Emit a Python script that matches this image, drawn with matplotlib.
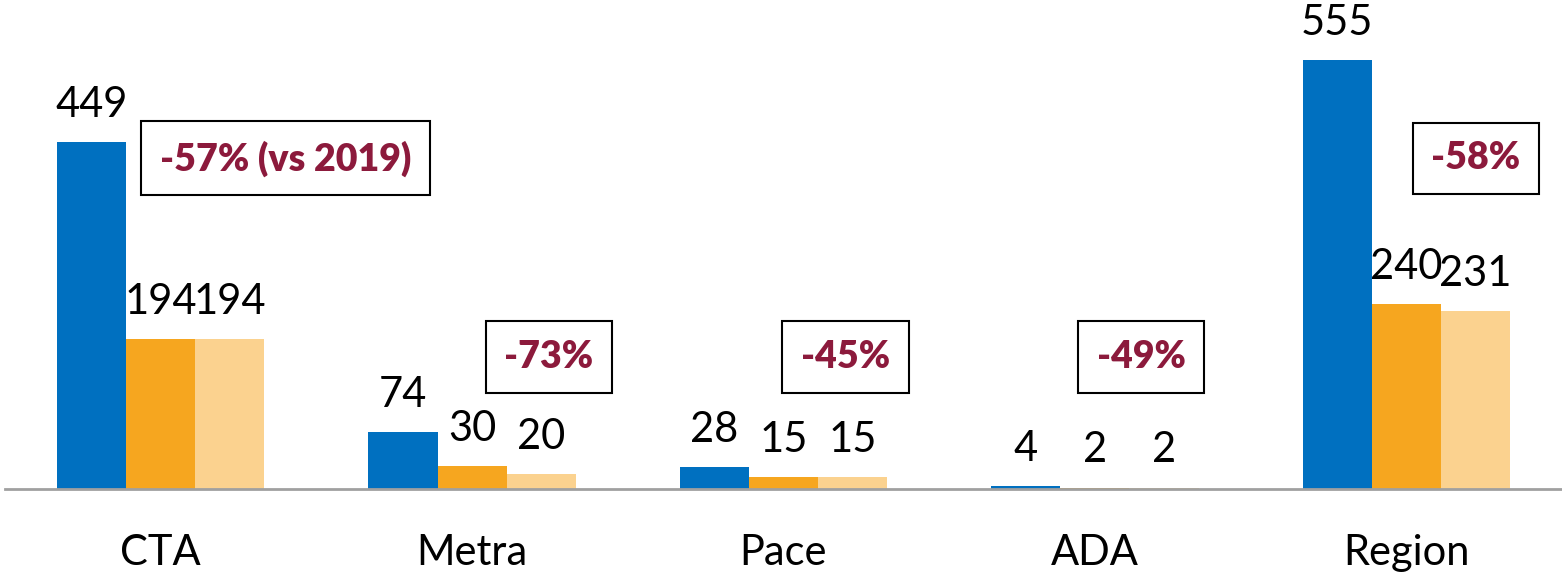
import matplotlib.pyplot as plt
import numpy as np

plt.rcParams['font.family'] = ['Lato', 'DejaVu Sans']

categories = ['CTA', 'Metra', 'Pace', 'ADA', 'Region']
vals_2019 = [449, 74, 28, 4, 555]
vals_mid = [194, 30, 15, 2, 240]
vals_last = [194, 20, 15, 2, 231]
change_labels = ['-57% (vs 2019)', '-73%', '-45%', '-49%', '-58%']

colors = ['#0070C0', '#F6A61F', '#FBD28F']
red = '#8C1A3C'

fig = plt.figure(figsize=(15.62, 5.72), dpi=100)
ax = fig.add_axes([0.0032, 0.145, 0.9968, 0.855])

x = np.arange(len(categories))
w = 0.222
series = [vals_2019, vals_mid, vals_last]
for i, vals in enumerate(series):
    pos = x + (i - 1) * w
    bars = ax.bar(pos, vals, width=w, color=colors[i], edgecolor='none')
    for b, v in zip(bars, vals):
        ax.annotate(str(v), (b.get_x() + b.get_width() / 2, v),
                    xytext=(0, 13), textcoords='offset points',
                    ha='center', va='bottom', fontsize=30, color='black')

# change boxes: (x position, y in data units)
box_pos = [(0.40, 428), (1.247, 171), (2.20, 171), (3.148, 171), (4.224, 428)]
for lab, (bx, by) in zip(change_labels, box_pos):
    ax.text(bx, by, lab, ha='center', va='center', fontsize=27,
            fontweight='heavy', color=red,
            bbox=dict(boxstyle='square,pad=0.5', facecolor='white',
                      edgecolor='black', linewidth=1.5))

ax.set_xlim(-0.5, len(categories) - 0.5)
ax.set_ylim(0, 633)
ax.set_xticks(x)
ax.set_xticklabels(categories, fontsize=30)
ax.tick_params(axis='x', length=0, pad=32)
ax.set_yticks([])
for s in ['top', 'right', 'left']:
    ax.spines[s].set_visible(False)
ax.spines['bottom'].set_color('#A0A0A0')
ax.spines['bottom'].set_linewidth(2)

fig.savefig('out.png', dpi=100)
